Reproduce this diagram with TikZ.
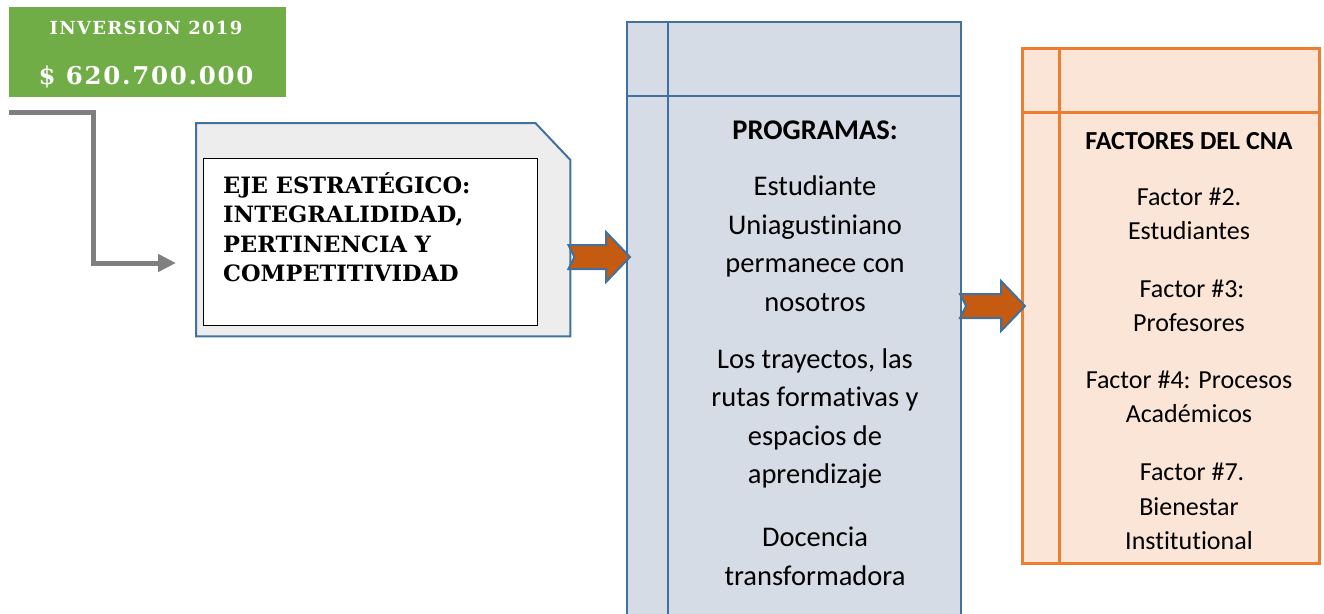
\documentclass[tikz,border=0pt]{standalone}
\usepackage{fontspec}
\setmainfont{Carlito}[Ligatures=NoCommon]
\newfontfamily\ejefont{DejaVu Serif}
\newfontfamily\budgetfont[LetterSpace=7]{DejaVu Serif}
\usetikzlibrary{calc}
\usetikzlibrary{arrows.meta}
\definecolor{budgetgreen}{HTML}{70AD47}
\definecolor{feedgray}{HTML}{7F7F7F}
\definecolor{frameblue}{HTML}{41719C}
\definecolor{ejegray}{HTML}{EDEDED}
\definecolor{arrowrust}{HTML}{C55A11}
\definecolor{progfill}{HTML}{D6DCE5}
\definecolor{factfill}{HTML}{FBE5D6}
\definecolor{factline}{HTML}{ED7D31}
\tikzset{
	budgetbox/.style={fill=budgetgreen, minimum width=277pt, minimum height=90pt, inner sep=0pt, anchor=north west},
	budgettext/.style={text=white, font=\budgetfont\bfseries\fontsize{#1}{#1}\selectfont, inner sep=0pt},
	feedline/.style={draw=feedgray, line width=5pt, -{Triangle[length=18pt, width=17pt]}},
	ejeframe/.style={minimum width=374pt, minimum height=213pt, inner sep=0pt, anchor=north west},
	ejebox/.style={draw=black, fill=white, line width=1.2pt, minimum width=334pt, minimum height=167pt, inner sep=0pt, anchor=north west},
	ejetext/.style={font=\ejefont\bfseries\fontsize{22.5}{29.5}\selectfont, align=left, inner sep=0pt, anchor=west},
	progbox/.style={draw=frameblue, fill=progfill, line width=2pt, minimum width=334pt, minimum height=609pt, inner sep=0pt, anchor=north west},
	progline/.style={draw=frameblue, line width=2pt},
	progtext/.style={font=\fontsize{28.5}{38.5}\selectfont, align=center, inner sep=0pt},
	factbox/.style={draw=factline, fill=factfill, line width=3pt, minimum width=297pt, minimum height=515pt, inner sep=0pt, anchor=north west},
	factrule/.style={draw=factline, line width=3pt},
	facttext/.style={font=\fontsize{26}{34.5}\selectfont, align=center, inner sep=0pt},
	blockarrow/.style={draw=frameblue, fill=arrowrust, line width=2pt, line join=miter}
}
\newcommand{\blockarrow}[3] % from anchor, to anchor, row in px
{
	% notched block arrow on the given row
	\draw[blockarrow] let \p1=(#1 |- 0,#3), \p2=(#2 |- 0,#3) in
		(\x1-2pt,\y1+12pt) -- (\x2-20pt,\y1+12pt) -- (\x2-20pt,\y1+25pt) -- (\x2+4pt,\y1)
		-- (\x2-20pt,\y1-25pt) -- (\x2-20pt,\y1-12pt) -- (\x1-2pt,\y1-12pt) -- (\x1+4pt,\y1) -- cycle;
}
\begin{document}
\begin{tikzpicture}[x=1pt, y=-1pt]
	% page: 1324 x 613 px, one unit per px, y going down
	\useasboundingbox (0,0) rectangle (1324,613);
	\clip (0,0) rectangle (1324,613);
	% budget
	\node[budgetbox] (budget) at (9,7) {};
	\node[budgettext=18] (budgetyear) at (146,28) {INVERSION 2019};
	\node[budgettext=24.5] (budgetsum) at (146,77) {\$ 620.700.000};
	% strategic axis
	\node[ejeframe] (ejeframe) at (196,123) {};
	\draw[draw=frameblue, fill=ejegray, line width=2pt] (ejeframe.north west) -- ([xshift=-35pt]ejeframe.north east)
		-- ([yshift=-37pt]ejeframe.north east) -- (ejeframe.south east) -- (ejeframe.south west) -- cycle;
	\node[ejebox] (ejebox) at (203,158) {};
	\node[ejetext] (eje) at (223,227) {EJE ESTRATÉGICO:\\INTEGRALIDIDAD,\\PERTINENCIA Y\\COMPETITIVIDAD};
	% budget feed
	\coordinate (feed) at (9,112);
	\draw[feedline, shorten >=20pt] (feed) -- ++(84,0) |- (ejeframe.west |- 0,263);
	% programs
	\node[progbox] (prog) at (626,21) {};
	\draw[progline] ($(prog.north west)+(42,0)$) -- ($(prog.south west)+(42,0)$);
	\draw[progline] ($(prog.north west)+(0,75)$) -- ($(prog.north east)+(0,75)$);
	\node[progtext, font=\bfseries\fontsize{28.5}{38.5}\selectfont] (progtitle) at (815,130) {PROGRAMAS:};
	\node[progtext] (progone) at (815,243.5) {Estudiante\\Uniagustiniano\\permanece con\\nosotros};
	\node[progtext] (progtwo) at (815,418.5) {Los trayectos, las\\rutas formativas y\\espacios de\\aprendizaje};
	\node[progtext] (progthree) at (815,556.5) {Docencia\\transformadora};
	% CNA factors
	\node[factbox] (fact) at (1021,47) {};
	\draw[factrule] ($(fact.north west)+(38,0)$) -- ($(fact.south west)+(38,0)$);
	\draw[factrule] ($(fact.north west)+(0,65)$) -- ($(fact.north east)+(0,65)$);
	\node[facttext, font=\bfseries\fontsize{26}{34.5}\selectfont] (facttitle) at (1189,141) {FACTORES DEL CNA};
	\node[facttext] (facttwo) at (1189,214) {Factor \#2.\\Estudiantes};
	\node[facttext] (factthree) at (1189,306) {\hspace{6pt}Factor \#3:\\Profesores};
	\node[facttext] (factfour) at (1189,397) {Factor \#4: Procesos\\Académicos};
	\node[facttext] (factseven) at (1189,506.5) {\hspace{6pt}Factor \#7.\\Bienestar\\Institutional};
	% arrows
	\blockarrow{ejeframe.east}{prog.west}{257}
	\blockarrow{prog.east}{fact.west}{306}
\end{tikzpicture}
\end{document}
